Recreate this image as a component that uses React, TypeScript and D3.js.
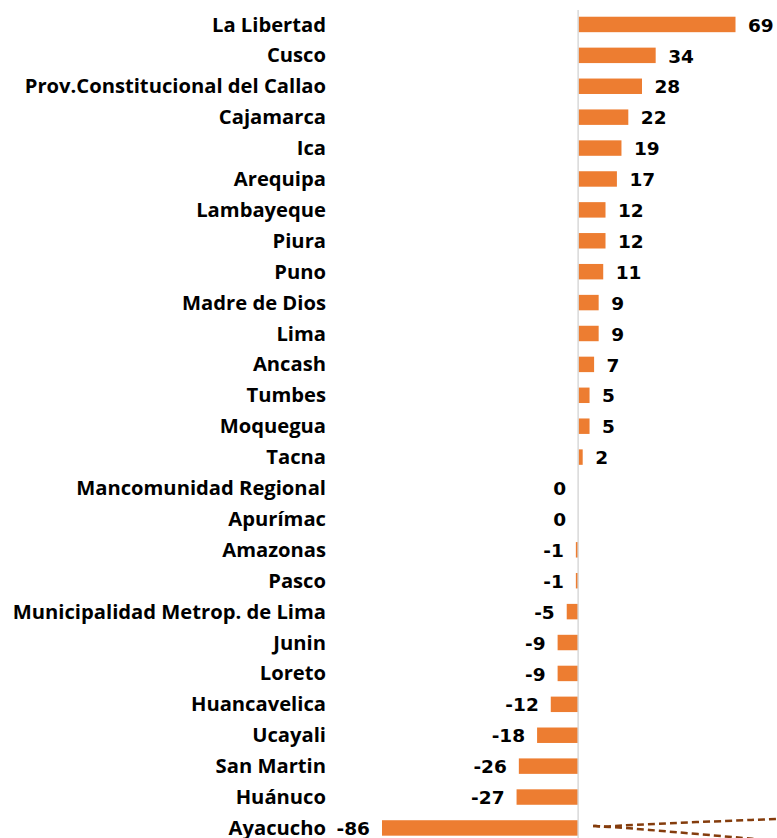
import React from 'react';
import * as d3 from 'd3';

const regions = [
  'La Libertad', 'Cusco', 'Prov.Constitucional del Callao', 'Cajamarca', 'Ica', 'Arequipa',
  'Lambayeque', 'Piura', 'Puno', 'Madre de Dios', 'Lima', 'Ancash', 'Tumbes', 'Moquegua',
  'Tacna', 'Mancomunidad Regional', 'Apurímac', 'Amazonas', 'Pasco',
  'Municipalidad Metrop. de Lima', 'Junin', 'Loreto', 'Huancavelica', 'Ucayali',
  'San Martin', 'Huánuco', 'Ayacucho',
];
const values = [
  69, 34, 28, 22, 19, 17, 12, 12, 11, 9, 9, 7, 5, 5, 2, 0, 0, -1, -1, -5, -9, -9, -12, -18,
  -26, -27, -86,
];

const W = 777;
const H = 838;
const LABEL_FONT = "'Open Sans', 'DejaVu Sans', sans-serif";
const VALUE_FONT = "'DejaVu Sans', 'Open Sans', sans-serif";

const App: React.FC = () => {
  const x = d3.scaleLinear().domain([d3.min(values)!, d3.max(values)!]).range([382, 735.5]);
  const y = d3.scaleBand<string>()
    .domain(regions)
    .range([9, 843.4])
    .paddingInner(0.5)
    .paddingOuter(0.25);

  const x0 = x(0);
  const bw = y.bandwidth();
  const last = regions[regions.length - 1];
  const cy = y(last)! + bw / 2;

  // dashed callout lines leaving the frame at bottom right
  const callout = d3.line().curve(d3.curveBasis);
  const c1 = callout([[x0 + 15, cy - 2], [x0 + 30, cy - 1], [x0 + 45, cy - 3], [W, cy - 9]]);
  const c2 = callout([[x0 + 15, cy - 2], [x0 + 30, cy - 1], [x0 + 50, cy], [W, cy + 13]]);

  return (
    <svg width={W} height={H} style={{ position: 'absolute', left: 0, top: 0 }}>
      <rect width={W} height={H} fill="#ffffff" />
      {regions.map((r, i) => {
        const v = values[i];
        const yy = y(r)!;
        const mid = yy + bw / 2;
        const x1 = x(Math.min(0, v));
        const w = Math.abs(x(v) - x0);
        return (
          <g key={r}>
            <rect x={x1} y={yy} width={w} height={bw} fill="#ed7d31" />
            <text
              x={326}
              y={mid}
              dy="0.35em"
              textAnchor="end"
              fontFamily={LABEL_FONT}
              fontWeight={700}
              fontSize={20.2}
              fill="#000"
            >
              {r}
            </text>
            <text
              x={v > 0 ? x(v) + 12.5 : x(v) - 12}
              y={mid + 0.5}
              dy="0.36em"
              textAnchor={v > 0 ? 'start' : 'end'}
              fontFamily={VALUE_FONT}
              fontWeight={700}
              fontSize={18.5}
              fill="#000"
            >
              {v}
            </text>
          </g>
        );
      })}
      <line x1={x0} x2={x0} y1={10} y2={H} stroke="#d9d9d9" strokeWidth={1.5} />
      <path d={c1 ?? ''} fill="none" stroke="#843c0c" strokeWidth={2.5} strokeDasharray="7 4" />
      <path d={c2 ?? ''} fill="none" stroke="#843c0c" strokeWidth={2.5} strokeDasharray="7 4" />
    </svg>
  );
};

export default App;
